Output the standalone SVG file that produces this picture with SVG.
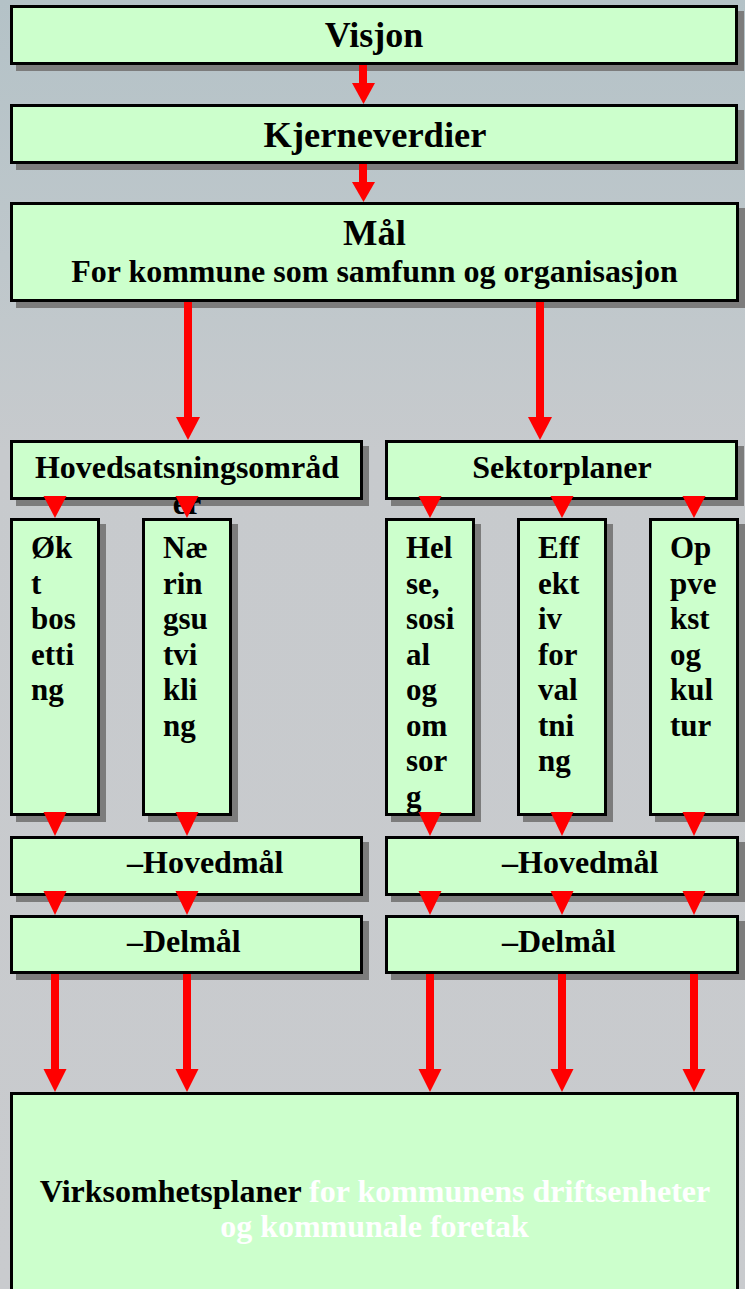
<svg xmlns="http://www.w3.org/2000/svg" width="745" height="1289" viewBox="0 0 745 1289">
<defs>
<linearGradient id="bg" x1="0" y1="0" x2="0" y2="1">
<stop offset="0" stop-color="#b4c2c7"/>
<stop offset="0.2" stop-color="#bec7cb"/>
<stop offset="0.35" stop-color="#c7cacd"/>
<stop offset="1" stop-color="#c9cbce"/>
</linearGradient>
<style>
.box{fill:#ccffcc;stroke:#000;stroke-width:3}
.sh{fill:#7c7c7c}
text{font-family:'Liberation Serif','Times New Roman',Times,serif;font-weight:700}
.t{fill:#000}
.w{fill:#ffffff}
.c{text-anchor:middle}
.red{fill:#ff0000}
</style>
</defs>
<rect x="0" y="0" width="745" height="1289" fill="url(#bg)"/>

<g id="visjon">
<rect class="sh" x="16" y="11" width="728" height="60"/>
<rect class="box" x="11.5" y="6.5" width="725" height="57"/>
<text class="t c" x="374" y="47" font-size="36">Visjon</text>
</g>

<g id="kjerneverdier">
<rect class="sh" x="16" y="110" width="728" height="60"/>
<rect class="box" x="11.5" y="105.5" width="725" height="57"/>
<text class="t c" x="375" y="147" font-size="36.5">Kjerneverdier</text>
</g>

<g id="maal">
<rect class="sh" x="16" y="208" width="729" height="100"/>
<rect class="box" x="11.5" y="203.5" width="726" height="97"/>
<text class="t c" x="374.5" y="245" font-size="36.5">Mål</text>
<text class="t c" x="374.5" y="282" font-size="32">For kommune som samfunn og organisasjon</text>
</g>

<g id="hovedsatsning">
<rect class="sh" x="16" y="446" width="353" height="60"/>
<rect class="box" x="11.5" y="441.5" width="350" height="57"/>
<text class="t c" x="187" y="478" font-size="32">Hovedsatsningsområd</text>
<text class="t c" x="187" y="514" font-size="32">er</text>
</g>

<g id="sektorplaner">
<rect class="sh" x="391" y="446" width="353" height="60"/>
<rect class="box" x="386.5" y="441.5" width="350" height="57"/>
<text class="t c" x="562" y="478" font-size="32">Sektorplaner</text>
</g>

<g id="okt-bosetting">
<rect class="sh" x="16" y="524" width="90" height="298"/>
<rect class="box" x="11.5" y="519.5" width="87" height="295"/>
<text class="t" font-size="31"><tspan x="31" y="558">Øk</tspan><tspan x="31" y="593.5">t</tspan><tspan x="31" y="629">bos</tspan><tspan x="31" y="664.5">etti</tspan><tspan x="31" y="700">ng</tspan></text>
</g>

<g id="naeringsutvikling">
<rect class="sh" x="148" y="524" width="90" height="298"/>
<rect class="box" x="143.5" y="519.5" width="87" height="295"/>
<text class="t" font-size="31"><tspan x="163" y="558">Næ</tspan><tspan x="163" y="593.5">rin</tspan><tspan x="163" y="629">gsu</tspan><tspan x="163" y="664.5">tvi</tspan><tspan x="163" y="700">kli</tspan><tspan x="163" y="735.5">ng</tspan></text>
</g>

<g id="helse">
<rect class="sh" x="391" y="524" width="90" height="298"/>
<rect class="box" x="386.5" y="519.5" width="87" height="295"/>
<text class="t" font-size="31"><tspan x="406" y="558">Hel</tspan><tspan x="406" y="593.5">se,</tspan><tspan x="406" y="629">sosi</tspan><tspan x="406" y="664.5">al</tspan><tspan x="406" y="700">og</tspan><tspan x="406" y="735.5">om</tspan><tspan x="406" y="771">sor</tspan><tspan x="406" y="806.5">g</tspan></text>
</g>

<g id="effektiv">
<rect class="sh" x="523" y="524" width="90" height="298"/>
<rect class="box" x="518.5" y="519.5" width="87" height="295"/>
<text class="t" font-size="31"><tspan x="538" y="558">Eff</tspan><tspan x="538" y="593.5">ekt</tspan><tspan x="538" y="629">iv</tspan><tspan x="538" y="664.5">for</tspan><tspan x="538" y="700">val</tspan><tspan x="538" y="735.5">tni</tspan><tspan x="538" y="771">ng</tspan></text>
</g>

<g id="oppvekst">
<rect class="sh" x="655" y="524" width="90" height="298"/>
<rect class="box" x="650.5" y="519.5" width="87" height="295"/>
<text class="t" font-size="31"><tspan x="670" y="558">Op</tspan><tspan x="670" y="593.5">pve</tspan><tspan x="670" y="629">kst</tspan><tspan x="670" y="664.5">og</tspan><tspan x="670" y="700">kul</tspan><tspan x="670" y="735.5">tur</tspan></text>
</g>

<g id="hovedmaal-1">
<rect class="sh" x="16" y="842" width="353" height="60"/>
<rect class="box" x="11.5" y="837.5" width="350" height="57"/>
<text class="t" x="127" y="873" font-size="32">–Hovedmål</text>
</g>

<g id="hovedmaal-2">
<rect class="sh" x="391" y="842" width="354" height="60"/>
<rect class="box" x="386.5" y="837.5" width="351" height="57"/>
<text class="t" x="502" y="873" font-size="32">–Hovedmål</text>
</g>

<g id="delmaal-1">
<rect class="sh" x="16" y="921" width="353" height="59"/>
<rect class="box" x="11.5" y="916.5" width="350" height="56"/>
<text class="t" x="127" y="952" font-size="32">–Delmål</text>
</g>

<g id="delmaal-2">
<rect class="sh" x="391" y="921" width="354" height="59"/>
<rect class="box" x="386.5" y="916.5" width="351" height="56"/>
<text class="t" x="502" y="952" font-size="32">–Delmål</text>
</g>

<g id="virksomhetsplaner">
<rect class="box" x="11.5" y="1093.5" width="726" height="220"/>
<text class="t c" x="375" y="1202" font-size="32">Virksomhetsplaner <tspan class="w">for kommunens driftsenheter</tspan></text>
<text class="w c" x="374.5" y="1237" font-size="32">og kommunale foretak</text>
</g>

<g id="connectors" class="red">
<rect x="359" y="65" width="8" height="19"/>
<polygon points="352,83 375,83 363.5,104"/>
<rect x="359" y="164" width="8" height="19"/>
<polygon points="352,182 375,182 363.5,202"/>
<rect x="184" y="302" width="8" height="116"/>
<polygon points="176,417 200,417 188,440"/>
<rect x="536" y="302" width="8" height="116"/>
<polygon points="528,417 552,417 540,440"/>

<polygon points="43.5,496 66.5,496 55,518"/>
<polygon points="175.5,496 198.5,496 187,518"/>
<polygon points="418.5,496 441.5,496 430,518"/>
<polygon points="550.5,496 573.5,496 562,518"/>
<polygon points="682.5,496 705.5,496 694,518"/>

<polygon points="43.5,812 66.5,812 55,836"/>
<polygon points="175.5,812 198.5,812 187,836"/>
<polygon points="418.5,812 441.5,812 430,836"/>
<polygon points="550.5,812 573.5,812 562,836"/>
<polygon points="682.5,812 705.5,812 694,836"/>

<polygon points="43.5,891 66.5,891 55,915"/>
<polygon points="175.5,891 198.5,891 187,915"/>
<polygon points="418.5,891 441.5,891 430,915"/>
<polygon points="550.5,891 573.5,891 562,915"/>
<polygon points="682.5,891 705.5,891 694,915"/>

<rect x="51" y="974" width="8" height="96"/>
<polygon points="43.5,1069 66.5,1069 55,1092"/>
<rect x="183" y="974" width="8" height="96"/>
<polygon points="175.5,1069 198.5,1069 187,1092"/>
<rect x="426" y="974" width="8" height="96"/>
<polygon points="418.5,1069 441.5,1069 430,1092"/>
<rect x="558" y="974" width="8" height="96"/>
<polygon points="550.5,1069 573.5,1069 562,1092"/>
<rect x="690" y="974" width="8" height="96"/>
<polygon points="682.5,1069 705.5,1069 694,1092"/>
</g>
</svg>
